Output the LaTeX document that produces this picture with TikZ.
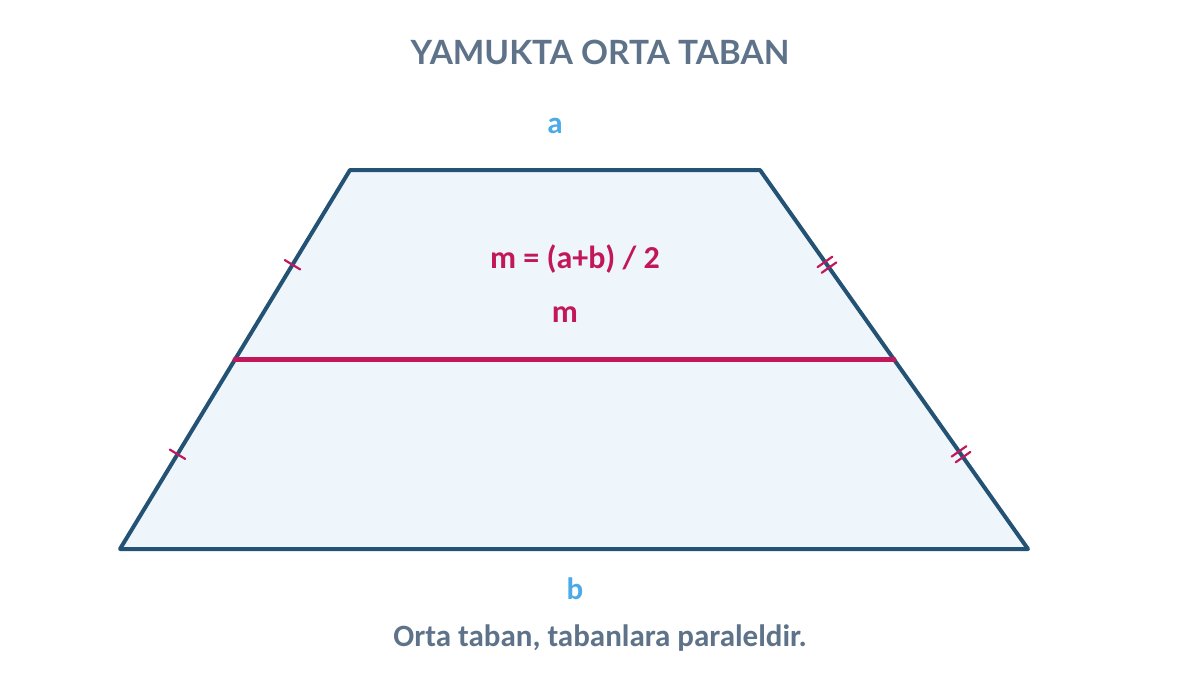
\documentclass[tikz,border=0pt]{standalone}
\usepackage{fontspec}
\setmainfont{Carlito}
\newfontfamily\titlefont{Lato}
\usetikzlibrary{calc}
\definecolor{sidecol}{HTML}{245274}
\definecolor{fillcol}{HTML}{EEF6FC}
\definecolor{midcol}{HTML}{C2185B}
\definecolor{labcol}{HTML}{4DAAE8}
\definecolor{textcol}{HTML}{5E7389}
\begin{document}
\begin{tikzpicture}[
    x=1pt, y=-1pt,
    trap/.style={draw=sidecol, line width=4pt, line join=round, fill=fillcol},
    midline/.style={draw=midcol, line width=5pt, line cap=round},
    tick/.style={draw=midcol, line width=2.2pt, line cap=round},
    baselabel/.style={text=labcol, font=\bfseries\fontsize{31}{34}\selectfont},
    mlabel/.style={text=midcol, font=\bfseries\fontsize{32}{36}\selectfont}
  ]
  \useasboundingbox (0,0) rectangle (1200,675);

  %Nodes
  \coordinate (TL) at (350,170);
  \coordinate (TR) at (760,170);
  \coordinate (BR) at (1028,549);
  \coordinate (BL) at (120,549);
  \coordinate (ML) at ($(TL)!0.5!(BL)$);
  \coordinate (MR) at ($(TR)!0.5!(BR)$);

  %Lines
  \draw[trap] (TL) -- (TR) -- (BR) -- (BL) -- cycle;
  \draw[midline] (ML) -- (MR);

  %Ticks
  \foreach \p in {0.25,0.75} {
    \coordinate (L) at ($(TL)!\p!(BL)$);
    \draw[tick] ($(L)!9pt!90:(TL)$) -- ($(L)!9pt!-90:(TL)$);
    \coordinate (R1) at ($(TR)!\p!(BR)!3.5pt!(BR)$);
    \coordinate (R2) at ($(TR)!\p!(BR)!-3.5pt!(BR)$);
    \draw[tick] ($(R1)!9pt!90:(TR)$) -- ($(R1)!9pt!-90:(TR)$);
    \draw[tick] ($(R2)!9pt!90:(TR)$) -- ($(R2)!9pt!-90:(TR)$);
  }

  %Labels
  \node[text=textcol, font=\titlefont\bfseries\fontsize{33.4}{38}\selectfont] (title) at (600,52) {YAMUKTA ORTA TABAN};
  \node[baselabel] (a) at (555,126) {a};
  \node[baselabel] (b) at (575,589) {b};
  \node[mlabel] (formula) at (575,259) {m = (a+b) / 2};
  \node[mlabel] (m) at (565,315) {m};
  \node[text=textcol, font=\bfseries\fontsize{31}{34}\selectfont] (note) at (600,638) {Orta taban, tabanlara paraleldir.};

\end{tikzpicture}
\end{document}
